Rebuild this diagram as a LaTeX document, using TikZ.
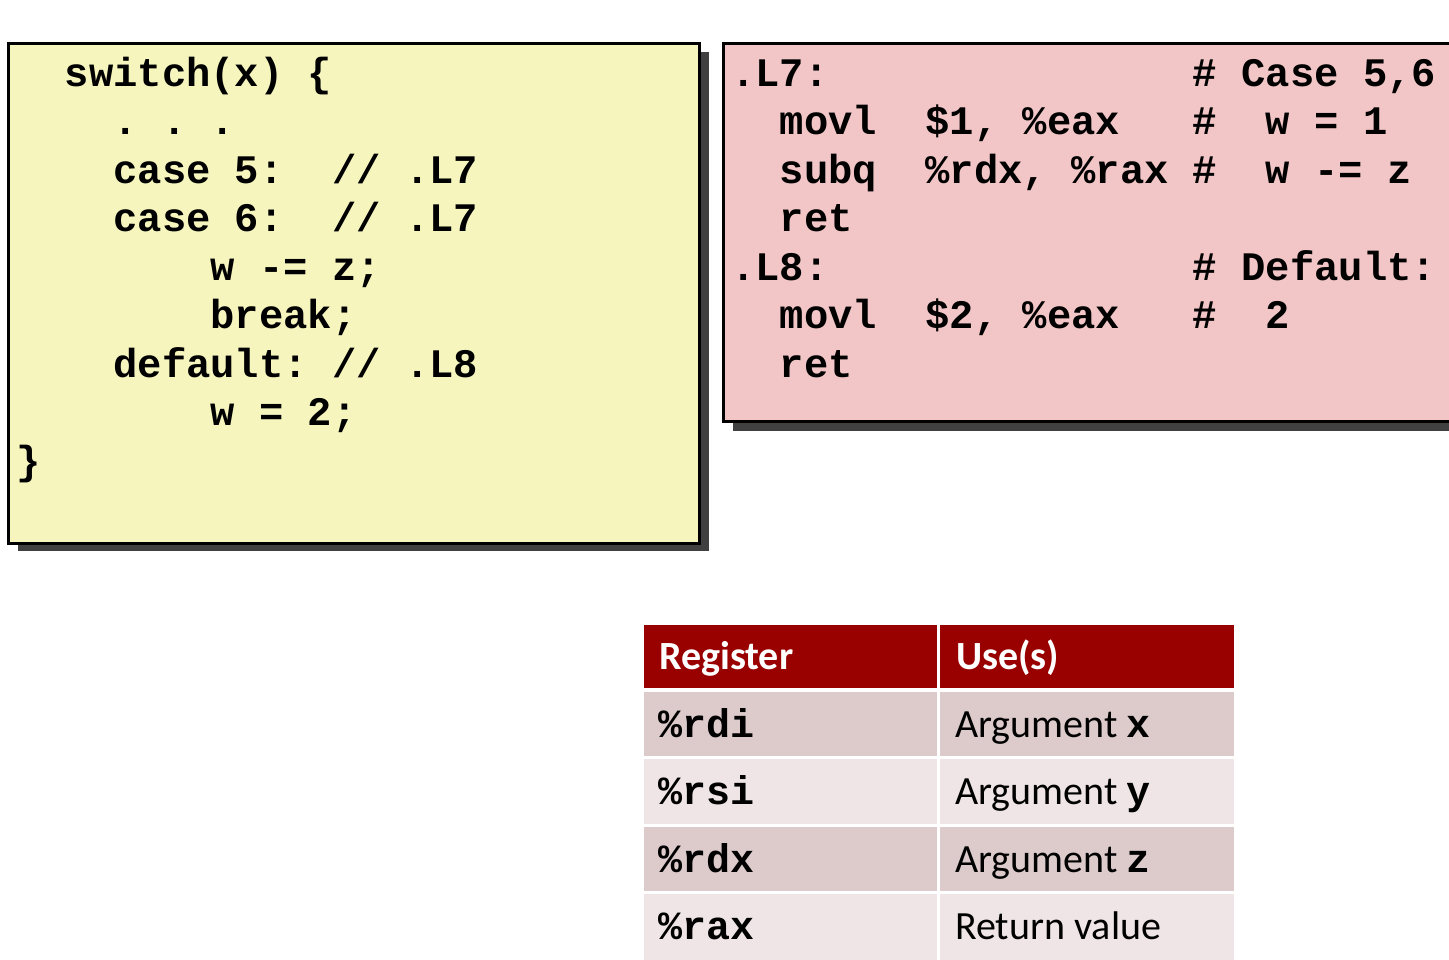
\documentclass[tikz,border=0pt]{standalone}
\usepackage{fontspec}
\setmainfont{Carlito}
\setmonofont{Liberation Mono}
\definecolor{yel}{RGB}{246,245,190}
\definecolor{pnk}{RGB}{242,198,199}
\definecolor{shd}{RGB}{64,64,64}
\definecolor{hdr}{RGB}{153,0,0}
\definecolor{rowA}{RGB}{221,203,204}
\definecolor{rowB}{RGB}{239,229,230}
\begin{document}
\begin{tikzpicture}[x=1pt,y=-1pt,
  code/.style={anchor=base west,inner sep=0pt,font=\fontsize{40.5}{48}\ttfamily\bfseries},
  tcode/.style={anchor=base west,inner sep=0pt,font=\fontsize{40}{48}\ttfamily\bfseries},
  tsans/.style={anchor=base west,inner sep=0pt,font=\fontsize{40}{48}\selectfont},
  panel/.style={draw=black,line width=3pt},
  shadow/.style={fill=shd}]
\clip (0,0) rectangle (1449,959);
\fill[white] (0,0) rectangle (1449,959);
% left C panel
\fill[shadow] (18,52) rectangle (709,551);
\filldraw[panel,fill=yel] (8,43) rectangle (699,543);
% right asm panel
\fill[shadow] (733,53) rectangle (1470,431);
\filldraw[panel,fill=pnk] (723,43) rectangle (1470,421);
% C code
\node[code] (c1) at (16,86) {~~switch(x)~\{};
\node[code] (c2) at (16,134.5) {~~~~.~.~.};
\node[code] (c3) at (16,183) {~~~~case~5:~~//~.L7};
\node[code] (c4) at (16,231.5) {~~~~case~6:~~//~.L7};
\node[code] (c5) at (16,280) {~~~~~~~~w~-=~z;};
\node[code] (c6) at (16,328.5) {~~~~~~~~break;};
\node[code] (c7) at (16,377) {~~~~default:~//~.L8};
\node[code] (c8) at (16,425.5) {~~~~~~~~w~=~2;};
\node[code] (c9) at (16,474) {\}};
% assembly
\node[code] (a1) at (731,86) {.L7:~~~~~~~~~~~~~~~\#~Case~5,6};
\node[code] (a2) at (731,134.5) {~~movl~~\$1,~\%eax~~~\#~~w~=~1};
\node[code] (a3) at (731,183) {~~subq~~\%rdx,~\%rax~\#~~w~-=~z};
\node[code] (a4) at (731,231.5) {~~ret};
\node[code] (a5) at (731,280) {.L8:~~~~~~~~~~~~~~~\#~Default:};
\node[code] (a6) at (731,328.5) {~~movl~~\$2,~\%eax~~~\#~~2};
\node[code] (a7) at (731,377) {~~ret};
% table
\fill[hdr] (644,625) rectangle (937,688);
\fill[hdr] (940,625) rectangle (1234,688);
\fill[rowA] (644,692) rectangle (937,756);
\fill[rowA] (940,692) rectangle (1234,756);
\fill[rowB] (644,759) rectangle (937,824);
\fill[rowB] (940,759) rectangle (1234,824);
\fill[rowA] (644,827) rectangle (937,891);
\fill[rowA] (940,827) rectangle (1234,891);
\fill[rowB] (644,894) rectangle (937,962);
\fill[rowB] (940,894) rectangle (1234,962);
\node[tsans,text=white,font=\fontsize{40}{48}\bfseries] (h1) at (659,669) {Register};
\node[tsans,text=white,font=\fontsize{40}{48}\bfseries] (h2) at (956,669) {Use(s)};
\node[tcode] (r1) at (658,737) {\%rdi};
\node[tcode] (r2) at (658,804) {\%rsi};
\node[tcode] (r3) at (658,872) {\%rdx};
\node[tcode] (r4) at (658,939) {\%rax};
\node[tsans] (u1) at (955,737) {Argument {\ttfamily\bfseries x}};
\node[tsans] (u2) at (955,804) {Argument {\ttfamily\bfseries y}};
\node[tsans] (u3) at (955,872) {Argument {\ttfamily\bfseries z}};
\node[tsans] (u4) at (955,939) {Return value};
\end{tikzpicture}
\end{document}
